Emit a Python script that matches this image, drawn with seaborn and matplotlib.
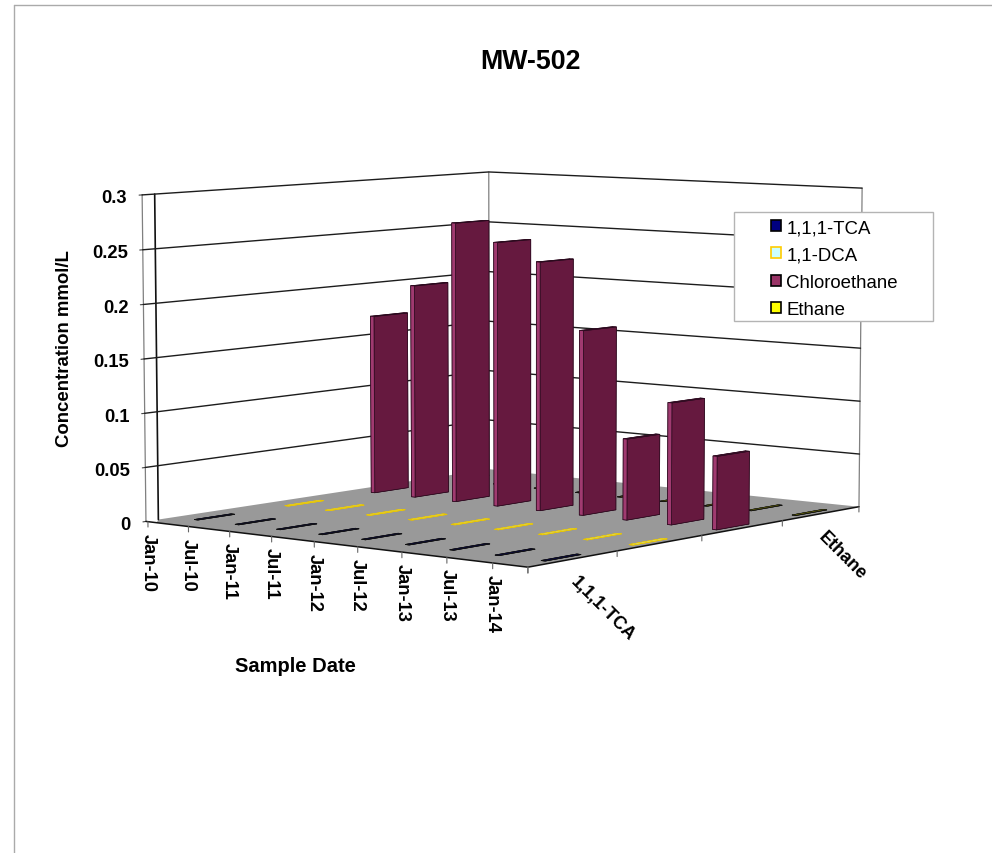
import numpy as np
import pandas as pd
import seaborn as sns
import matplotlib
matplotlib.use("Agg")
import matplotlib.pyplot as plt
from matplotlib.lines import Line2D
from matplotlib.patches import Patch, Rectangle
from mpl_toolkits.mplot3d import proj3d
from mpl_toolkits.mplot3d.art3d import Poly3DCollection

# Concentrations in mmol/L by sampling event
sample_dates = ["Jan-10", "Jul-10", "Jan-11", "Jul-11", "Jan-12", "Jul-12", "Jan-13", "Jul-13", "Jan-14"]
compounds = ["1,1,1-TCA", "1,1-DCA", "Chloroethane", "Ethane"]
tca = [0, 0, 0, 0, 0, 0, 0, 0, 0]
dca = [0, 0, 0, 0, 0, 0, 0, 0, 0]
chloroethane = [0.171, 0.203, 0.265, 0.249, 0.233, 0.172, 0.075, 0.112, 0.067]
ethane = [0, 0, 0, 0, 0, 0, 0, 0, 0]
z_ticks = [0, 0.05, 0.1, 0.15, 0.2, 0.25, 0.3]
z_tick_labels = ["0", "0.05", "0.1", "0.15", "0.2", "0.25", "0.3"]
shown_compound_labels = ["1,1,1-TCA", "", "", "Ethane"]

legend_faces = ["#000080", "#CCFFFF", "#993366", "#FFFF00"]
legend_edges = ["#000000", "#FFCC00", "#000000", "#000000"]
dash_edges = ["#111111", "#E8C400", "#111111", "#111111"]

frame = pd.DataFrame({"date": sample_dates, "1,1,1-TCA": tca, "1,1-DCA": dca,
                      "Chloroethane": chloroethane, "Ethane": ethane}).set_index("date")

sns.set_theme(style="white", font="Liberation Sans")
plt.rcParams["font.family"] = ["Liberation Sans", "DejaVu Sans"]
plt.rcParams["text.color"] = "black"
palette = sns.color_palette(legend_faces)

W, H = 992, 854
fig = plt.figure(figsize=(W / 100, H / 100), dpi=100, facecolor="white")
ax = fig.add_axes([0, 0, 1, 1], projection="3d", computed_zorder=False)
ax.set_axis_off()
ax.patch.set_visible(False)
ax.apply_aspect()

ZMAX = 0.3

# Camera: solve the projective matrix from where the box corners fall on the canvas.
box_world = np.array([[0, 0, 0], [0, 0, ZMAX], [0, 1, 0], [0, 1, ZMAX],
                      [1, 1, 0], [1, 1, ZMAX], [1, 0, 0]], float)
box_canvas = np.array([[146, 522.5], [142, 196], [489, 470], [489, 173],
                       [859, 508], [862, 189], [528, 568]], float)
rows, rhs = [], []
for (X, Y, Z), (u, v) in zip(box_world, box_canvas):
    rows.append([X, Y, Z, 1, 0, 0, 0, 0, -u * X, -u * Y, -u * Z]); rhs.append(u)
    rows.append([0, 0, 0, 0, X, Y, Z, 1, -v * X, -v * Y, -v * Z]); rhs.append(v)
p = np.linalg.lstsq(np.array(rows), np.array(rhs), rcond=None)[0]
P = np.append(p, 1.0).reshape(3, 4)
flip = np.array([[1, 0, 0], [0, -1, H], [0, 0, 1]], float)
Q = ax.transData.inverted().get_matrix() @ flip @ P
if Q[2] @ np.array([0.5, 0.5, 0.15, 1]) < 0:
    Q = -Q
M = np.vstack([Q[0], Q[1], [0, 0, 0, -1], Q[2]])
ax.get_proj = lambda: M
ax.M = M


def anchored_text(x, y, z, text, dx=0, dy=0, **kw):
    """Text pinned to a 3D point, shifted by a pixel offset on the canvas."""
    px, py, _ = proj3d.proj_transform(x, y, z, M)
    return ax.annotate(text, xy=(px, py), xycoords="data", xytext=(dx, dy),
                       textcoords="offset pixels", annotation_clip=False, **kw)


n_dates = len(sample_dates)
n_series = len(compounds)


def date_pos(i):
    """Position of date slot i along the floor; the slab's end margin is slightly short."""
    return (0.05 + 1.022 * i) / n_dates


# Floor
floor = Poly3DCollection([[(0, 0.033, 0), (0.03, 0, 0), (1, 0, 0), (1, 1, 0), (0, 1, 0)]],
                         facecolor="#999999", edgecolor="none", zorder=1)
ax.add_collection3d(floor)

# Wall edges and gridlines, with short ticks on the value axis
wall_grey = "#808080"
for (wx, wy) in [(0, 0), (0, 1), (1, 1)]:
    ax.plot([wx, wx], [wy, wy], [0, ZMAX], color=wall_grey, lw=0.9, zorder=2)
ax.plot([0, 0], [0.033, 0.033], [0, ZMAX], color="#111111", lw=1.2, zorder=2)
for z in z_ticks:
    ax.plot([0, 0], [0, -0.008], [z, z], color="#444444", lw=0.8, zorder=2)
for z in z_ticks[1:]:
    ax.plot([0, 0, 1], [0, 1, 1], [z, z, z], color="#1c1c1c", lw=1.0, zorder=2)

# Floor front edges and tick marks
ax.plot([0, 1, 1], [0, 0, 1], [0, 0, 0], color="#111111", lw=1.1, zorder=2)
date_ticks = [date_pos(i) for i in range(n_dates)] + [1.0]
for xt in date_ticks:
    ax.plot([xt, xt], [0, 0], [0, -0.005], color="#666666", lw=0.8, zorder=2)
for j in range(n_series + 1):
    ax.plot([1, 1], [j / n_series] * 2, [0, -0.005], color="#666666", lw=0.8, zorder=2)

# Columns: thin in date direction, wide in compound direction
bar_dx, bar_dy = 0.01, 0.10
bar_faces = ["#4a1234", "#4a1234", "#A03A70", "#66193F", "#66193F", "#66193F"]
for j, name in enumerate(compounds):
    values = frame[name].to_numpy()
    xs = np.array([date_pos(i + 0.5) for i in range(n_dates)]) - bar_dx / 2
    ys = np.full(n_dates, (j + 0.5) / n_series - bar_dy / 2)
    if values.max() > 0:
        colors = bar_faces * n_dates
        edge, lw, order = "#2b0a1e", 0.5, 4
    else:
        # Zero readings collapse to flat slivers on the floor
        colors = [palette[j]] * n_dates
        edge, lw, order = dash_edges[j], 0.55, 3
    ax.bar3d(xs, ys, np.zeros(n_dates), bar_dx, bar_dy, values, color=colors,
             edgecolor=edge, linewidth=lw, shade=False, zorder=order)

# Tick labels
tick_font = dict(fontsize=13.2, fontweight="bold", color="black")
for z, lab in zip(z_ticks, z_tick_labels):
    anchored_text(0, 0, z, lab, dx=-15, dy=-3, ha="right", va="center", **tick_font)
for i, lab in enumerate(sample_dates):
    anchored_text(date_pos(i), 0, 0, lab, dx=0, dy=-11, ha="center", va="top",
                  rotation=270, **tick_font)
for j, lab in enumerate(shown_compound_labels):
    if lab:
        anchored_text(1, (j + 0.5) / n_series, 0, lab, dx=0, dy=-20, ha="left", va="center",
                      rotation=-45, rotation_mode="anchor", fontsize=13, fontweight="bold",
                      color="black")

# Titles
fig.text(530 / W, 1 - 62 / H, "MW-502", ha="center", va="center", fontsize=19.3, fontweight="bold")
fig.text(64.5 / W, 1 - 349 / H, "Concentration mmol/L", ha="center", va="center", rotation=90,
         fontsize=13.4, fontweight="bold")
fig.text(295 / W, 1 - 667 / H, "Sample Date", ha="center", va="center", fontsize=14.5, fontweight="bold")

# Legend box with its entries
fig.add_artist(Rectangle((734 / W, 1 - 322 / H), 199 / W, 109 / H, transform=fig.transFigure,
                         facecolor="white", edgecolor="#b4b4b4", lw=1.0, zorder=4))
handles = [Patch(facecolor=f, edgecolor=e, lw=1.2) for f, e in zip(palette, legend_edges)]
leg = fig.legend(handles, compounds, loc="upper left", bbox_to_anchor=(771 / W, 1 - 220 / H),
                 frameon=False, fontsize=13.4, borderpad=0, borderaxespad=0, labelspacing=0.56,
                 handlelength=0.55, handleheight=0.55, handletextpad=0.27, labelcolor="black")
leg.set_zorder(5)

# Chart area border, open towards the lower right
fig.add_artist(Line2D([14 / W, 14 / W], [0, 1 - 6 / H], transform=fig.transFigure, color="#aaaaaa", lw=1.0))
fig.add_artist(Line2D([14 / W, 1], [1 - 6 / H, 1 - 6 / H], transform=fig.transFigure, color="#aaaaaa", lw=1.0))

fig.savefig("out.png", dpi=100)
